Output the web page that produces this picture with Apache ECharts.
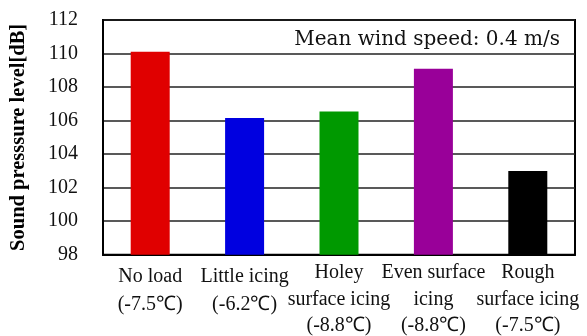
<!DOCTYPE html>
<html><head><meta charset="utf-8">
<script src="https://cdn.jsdelivr.net/npm/echarts@6/dist/echarts.min.js"></script>
<style>html,body{margin:0;padding:0;background:#fff}#c{width:587px;height:336px}</style>
</head><body><div id="c"></div>
<script>
var categories = ['No load\n(-7.5℃)', 'Little icing\n(-6.2℃)', 'Holey\nsurface icing\n(-8.8℃)', 'Even surface\nicing\n(-8.8℃)', 'Rough\nsurface icing\n(-7.5℃)'];
var values = [110.1, 106.15, 106.55, 109.1, 103.0];
var barColors = ['#e00000', '#0000e0', '#009900', '#990099', '#000000'];
var yTicks = {min: 98, max: 112, interval: 2};
var note = 'Mean wind speed: 0.4 m/s';
var yTitle = 'Sound presssure level[dB]';

var chart = echarts.init(document.getElementById('c'), null, {renderer: 'canvas'});
var serif = '"Liberation Serif", "Times New Roman", serif';
chart.setOption({
  animation: false,
  grid: {left: 99, right: 12, top: 20, bottom: 79, show: true, borderColor: '#000', borderWidth: 2, backgroundColor: 'transparent'},
  title: {text: note, right: 22, top: 25, textStyle: {fontFamily: '"DejaVu Serif", serif', fontSize: 20, fontWeight: 'normal', color: '#111'}},
  xAxis: {
    type: 'category', data: categories,
    axisLine: {lineStyle: {color: '#000', width: 2}},
    axisTick: {show: false},
    axisLabel: {
      interval: 0, margin: 5, color: '#111', fontFamily: serif, fontSize: 20,
      formatter: function (v) {
        var lines = v.split('\n');
        var k = lines.length === 2 ? 'a' : 'b';
        return lines.map(function (l, i) { return '{' + (i === 0 && k === 'a' ? 'a1' : k) + '|' + l + '}'; }).join('\n');
      },
      rich: {
        a: {fontFamily: serif, fontSize: 20, lineHeight: 30, color: '#111'},
        a1: {fontFamily: serif, fontSize: 20, lineHeight: 30, color: '#111', padding: [3, 0, 0, 0]},
        b: {fontFamily: serif, fontSize: 20, lineHeight: 26.5, color: '#111'}
      }
    }
  },
  yAxis: {
    type: 'value', min: yTicks.min, max: yTicks.max, interval: yTicks.interval,
    name: yTitle, nameLocation: 'middle', nameGap: 74, nameRotate: 90,
    nameTextStyle: {fontFamily: serif, fontWeight: 'bold', fontSize: 20.5, color: '#000'},
    axisLine: {show: true, lineStyle: {color: '#000', width: 2}},
    axisTick: {show: false},
    axisLabel: {margin: 25, color: '#111', fontFamily: serif, fontSize: 20},
    splitLine: {show: true, lineStyle: {color: '#222', width: 1.5}}
  },
  series: [{
    type: 'bar', barWidth: 39,
    data: values.map(function (v, i) { return {value: v, itemStyle: {color: barColors[i]}}; })
  }]
});
</script></body></html>
